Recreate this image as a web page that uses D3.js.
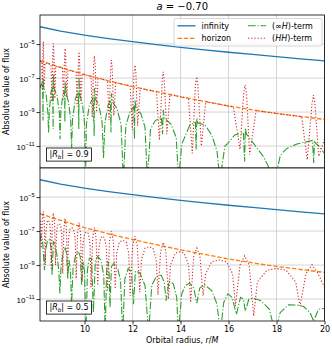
<!DOCTYPE html>
<html>
<head>
<meta charset="utf-8">
<script src="https://cdn.jsdelivr.net/npm/d3@7"></script>
<style>
  body { margin: 0; background: #fff; }
  svg { font-family: "DejaVu Sans", sans-serif; }
</style>
</head>
<body>
<svg id="chart" width="332" height="346"></svg>
<script>
// radius grid for the smooth fluxes (r/M)
var radiusGrid = [8.143, 9, 10, 11, 12, 13, 14, 15, 16, 17, 18, 19, 20];
// log10 of the flux at infinity and at the horizon
var logInfinity = [-3.98, -4.24, -4.48, -4.68, -4.86, -5.03, -5.19, -5.34, -5.48, -5.61, -5.74, -5.87, -5.99];
var logHorizon = [-5.98, -6.37, -6.8, -7.16, -7.5, -7.8, -8.1, -8.37, -8.64, -8.87, -9.08, -9.26, -9.43];

// [r, log10 |flux|] for the interference terms, |R_b| = 0.9
var crossTermR09 = [
  [8.143, -7.6], [8.2, -7.35], [8.25, -7.5], [8.27, -9.5], [8.28, -7.0], [8.3, -7.6], [8.4, -8.0],
  [8.47, -9.0], [8.5, -10.2], [8.53, -9.0], [8.6, -7.8], [8.67, -7.6], [8.69, -10.0], [8.7, -6.8],
  [8.72, -7.6], [8.85, -8.0], [8.95, -9.0], [8.98, -10.6], [9.01, -9.0], [9.1, -7.9], [9.17, -7.75],
  [9.18, -9.6], [9.19, -7.2], [9.21, -7.8], [9.33, -8.4], [9.42, -9.4], [9.46, -11.1], [9.5, -9.4],
  [9.62, -8.2], [9.74, -7.85], [9.76, -10.0], [9.77, -6.95], [9.79, -7.9], [9.92, -8.6], [10.0, -9.7],
  [10.04, -13], [10.08, -9.7], [10.2, -8.6], [10.36, -8.15], [10.4, -10.4], [10.41, -7.6], [10.44, -8.2],
  [10.6, -8.6], [10.73, -9.6], [10.79, -11.7], [10.85, -9.6], [10.98, -8.6], [11.08, -8.3], [11.1, -10.2],
  [11.12, -7.9], [11.15, -8.35], [11.35, -8.8], [11.52, -9.7], [11.62, -13], [11.72, -9.8], [11.9, -8.95],
  [12.05, -8.7], [12.08, -10.6], [12.1, -8.3], [12.14, -8.75], [12.35, -9.1], [12.52, -9.9], [12.62, -13],
  [12.75, -10.0], [12.95, -9.5], [13.2, -9.3], [13.25, -10.3], [13.28, -8.88], [13.32, -9.35], [13.6, -9.7],
  [13.82, -10.5], [13.92, -13], [14.05, -10.9], [14.18, -10.45], [14.39, -9.76], [14.62, -9.6], [14.65, -11.2],
  [14.68, -9.35], [14.72, -9.65], [15.02, -9.76], [15.3, -10.35], [15.52, -11.3], [15.64, -13], [15.85, -11.0],
  [15.97, -10.84], [16.26, -10.35], [16.62, -10.2], [16.67, -11.9], [16.7, -9.95], [16.75, -10.3], [17.04, -10.84],
  [17.46, -11.63], [17.94, -13], [18.16, -11.53], [18.43, -11.14], [18.85, -10.88], [19.29, -10.74], [19.5, -10.67],
  [19.55, -12.0], [19.58, -10.75], [19.8, -11.05], [20.0, -11.44]
];
var hhTermR09 = [
  [8.143, -6.0], [8.22, -6.03], [8.24, -7.7], [8.27, -5.3], [8.28, -4.86], [8.29, -5.3], [8.32, -7.5], [8.35, -6.1],
  [8.6, -6.2], [8.64, -8.39], [8.68, -5.4], [8.7, -4.96], [8.72, -5.4], [8.76, -8.2], [8.8, -6.3],
  [9.08, -6.41], [9.12, -8.29], [9.17, -5.7], [9.19, -5.25], [9.21, -5.7], [9.26, -8.1], [9.31, -6.52],
  [9.65, -6.66], [9.69, -8.69], [9.75, -5.9], [9.77, -5.45], [9.79, -5.9], [9.85, -8.5], [9.9, -6.76],
  [10.27, -6.9], [10.32, -9.3], [10.38, -6.15], [10.41, -5.7], [10.44, -6.15], [10.5, -9.0], [10.56, -7.0],
  [10.96, -7.14], [11.02, -9.47], [11.09, -6.4], [11.12, -5.94], [11.15, -6.4], [11.22, -9.2], [11.3, -7.26],
  [11.9, -7.47], [11.99, -10.06], [12.06, -6.7], [12.1, -6.24], [12.14, -6.7], [12.21, -9.8], [12.32, -7.6],
  [13.0, -7.81], [13.12, -10.65], [13.24, -7.1], [13.28, -6.63], [13.32, -7.1], [13.43, -10.3], [13.56, -7.97],
  [14.33, -8.19], [14.49, -11.43], [14.62, -7.4], [14.67, -6.92], [14.72, -7.4], [14.87, -11.0], [15.05, -8.39],
  [16.2, -8.7], [16.48, -11.2], [16.63, -7.9], [16.69, -7.41], [16.75, -7.9], [16.88, -11.5], [17.15, -8.92],
  [19.05, -9.28], [19.28, -11.8], [19.48, -8.5], [19.54, -8.0], [19.6, -8.5], [19.76, -11.6], [20.0, -10.6]
];

// [r, log10 |flux|] for the interference terms, |R_b| = 0.5
var crossTermR05 = [
  [8.143, -7.6], [8.18, -7.25], [8.24, -7.4], [8.29, -8.4], [8.33, -9.3], [8.37, -8.2], [8.45, -7.6],
  [8.53, -7.5], [8.6, -7.9], [8.65, -9.6], [8.7, -7.6], [8.76, -7.8], [8.86, -8.5], [8.93, -9.4],
  [8.97, -10.65], [9.02, -9.1], [9.1, -8.3], [9.19, -8.0], [9.25, -8.3], [9.3, -9.8], [9.35, -8.7],
  [9.41, -9.3], [9.46, -11.34], [9.52, -9.2], [9.62, -8.45], [9.74, -8.2], [9.82, -8.5], [9.88, -10.2],
  [9.94, -8.8], [10.0, -9.4], [10.06, -13], [10.12, -9.3], [10.2, -8.6], [10.29, -8.6], [10.37, -11.8],
  [10.45, -8.7], [10.55, -8.5], [10.68, -8.7], [10.8, -9.6], [10.86, -13], [10.92, -9.3], [10.97, -8.75],
  [11.02, -9.3], [11.06, -11.5], [11.12, -9.1], [11.22, -8.9], [11.38, -9.2], [11.5, -9.9], [11.59, -13],
  [11.68, -9.8], [11.82, -9.2], [11.96, -9.4], [12.04, -11.3], [12.12, -9.35], [12.3, -9.45], [12.52, -10.2],
  [12.67, -13], [12.8, -10.2], [12.99, -9.67], [13.2, -9.6], [13.32, -10.0], [13.4, -11.1], [13.52, -9.95],
  [13.7, -10.1], [13.84, -10.9], [13.91, -13], [14.05, -10.7], [14.2, -10.2], [14.38, -10.06], [14.55, -10.35],
  [14.68, -11.24], [14.8, -10.35], [15.0, -10.16], [15.3, -10.5], [15.52, -11.3], [15.66, -13], [15.8, -11.2],
  [15.97, -10.69], [16.15, -10.9], [16.33, -11.9], [16.5, -10.9], [16.62, -11.0], [16.7, -11.7], [16.85, -11.0],
  [17.05, -10.95], [17.35, -11.1], [17.7, -11.6], [17.95, -13], [18.15, -11.8], [18.5, -11.34], [18.85, -11.35],
  [19.13, -11.44], [19.4, -11.8], [19.55, -12.3], [19.75, -11.6], [20.0, -11.55]
];
var hhTermR05 = [
  [8.143, -6.4], [8.17, -6.5], [8.2, -8.0], [8.24, -6.3], [8.28, -5.85], [8.32, -6.4], [8.36, -9.0],
  [8.39, -7.0], [8.44, -6.45], [8.48, -6.35], [8.53, -6.45], [8.58, -7.0],
  [8.61, -9.2], [8.66, -6.5], [8.7, -5.94], [8.75, -6.5], [8.79, -9.0],
  [8.83, -7.1], [8.88, -6.65], [8.94, -6.55], [9.0, -6.65], [9.05, -7.2],
  [9.09, -9.5], [9.14, -6.8], [9.19, -6.24], [9.24, -6.8], [9.29, -9.4],
  [9.33, -7.5], [9.39, -6.9], [9.47, -6.8], [9.55, -6.9], [9.61, -7.5],
  [9.65, -9.8], [9.71, -7.1], [9.77, -6.5], [9.83, -7.1], [9.89, -10.0],
  [9.93, -7.8], [10.0, -7.15], [10.08, -7.05], [10.16, -7.15], [10.23, -7.8],
  [10.27, -10.3], [10.34, -7.4], [10.41, -6.8], [10.48, -7.4], [10.55, -10.2],
  [10.6, -8.0], [10.67, -7.4], [10.75, -7.3], [10.83, -7.4], [10.91, -8.0],
  [10.96, -10.5], [11.04, -7.6], [11.12, -7.0], [11.2, -7.6], [11.28, -10.4],
  [11.34, -8.3], [11.45, -7.65], [11.6, -7.55], [11.74, -7.65], [11.84, -8.3],
  [11.9, -10.8], [12.0, -7.9], [12.1, -7.3], [12.2, -7.9], [12.3, -10.6],
  [12.37, -8.7], [12.52, -8.0], [12.68, -7.92], [12.85, -8.0], [12.99, -8.7],
  [13.06, -10.75], [13.17, -8.2], [13.28, -7.67], [13.39, -8.2], [13.5, -11.0],
  [13.58, -9.0], [13.78, -8.3], [13.96, -8.22], [14.15, -8.3], [14.34, -9.0],
  [14.42, -11.2], [14.55, -8.5], [14.68, -8.0], [14.81, -8.5], [14.94, -10.8],
  [15.05, -9.5], [15.3, -8.8], [15.6, -8.7], [15.9, -8.8], [16.17, -9.5],
  [16.29, -11.4], [16.48, -9.0], [16.67, -8.45], [16.86, -9.0], [17.05, -12.0],
  [17.2, -10.0], [17.6, -9.3], [18.0, -9.2], [18.4, -9.3], [18.8, -10.0],
  [18.98, -11.4], [19.23, -9.5], [19.48, -8.98], [19.73, -9.5], [20.0, -10.3]
];

var reflectivity = ['0.9', '0.5'];
var xTicks = [10, 12, 14, 16, 18, 20];
var yTicks = [1e-11, 1e-9, 1e-7, 1e-5];
var yExponents = ['\u221211', '\u22129', '\u22127', '\u22125'];
var legendLabels = ['infinity', 'horizon', '(\u221eH)-term', '(HH)-term'];

var colors = {inf: '#1f77b4', hor: '#ff7f0e', cross: '#2ca02c', hh: '#d62728'};
var dashes = {inf: null, hor: '4.4,1.9', cross: '7.6,1.9,1.2,1.9', hh: '1.2,1.95'};

var svg = d3.select('#chart');
var left = 40, right = 324.5, panelHeight = 153;
var panelTops = [15, 168];

var x = d3.scaleLinear().domain([8.143, 20]).range([left, right]);

var toPoints = function (pairs) {
  return pairs.map(function (p) { return [p[0], Math.pow(10, p[1])]; });
};
var infinityPoints = radiusGrid.map(function (r, i) { return [r, Math.pow(10, logInfinity[i])]; });
var horizonPoints = radiusGrid.map(function (r, i) { return [r, Math.pow(10, logHorizon[i])]; });

var panels = [
  {cross: toPoints(crossTermR09), hh: toPoints(hhTermR09), label: reflectivity[0]},
  {cross: toPoints(crossTermR05), hh: toPoints(hhTermR05), label: reflectivity[1]}
];

panels.forEach(function (panel, k) {
  var top = panelTops[k], bottom = top + panelHeight;
  var y = d3.scaleLog().domain([Math.pow(10, -12.29), Math.pow(10, -3.29)]).range([bottom, top]);
  var g = svg.append('g').attr('class', 'panel' + k);

  g.append('rect').attr('x', left).attr('y', top)
    .attr('width', right - left).attr('height', panelHeight).attr('fill', '#fff');

  svg.append('clipPath').attr('id', 'clip' + k).append('rect')
    .attr('x', left).attr('y', top).attr('width', right - left).attr('height', panelHeight);

  // grid
  g.append('g').selectAll('line').data(xTicks).enter().append('line')
    .attr('x1', function (d) { return x(d); }).attr('x2', function (d) { return x(d); })
    .attr('y1', top).attr('y2', bottom)
    .attr('stroke', '#d0d0d0').attr('stroke-width', 0.9);
  g.append('g').selectAll('line').data(yTicks).enter().append('line')
    .attr('x1', left).attr('x2', right)
    .attr('y1', function (d) { return y(d); }).attr('y2', function (d) { return y(d); })
    .attr('stroke', '#d0d0d0').attr('stroke-width', 0.9);

  var line = d3.line().x(function (d) { return x(d[0]); }).y(function (d) { return y(d[1]); });
  var plot = g.append('g').attr('clip-path', 'url(#clip' + k + ')');
  var series = [
    {key: 'inf', data: infinityPoints, width: 1.3},
    {key: 'hor', data: horizonPoints, width: 1.3},
    {key: 'cross', data: panel.cross, width: 1.1},
    {key: 'hh', data: panel.hh, width: 1.1}
  ];
  series.forEach(function (s) {
    plot.append('path').attr('d', line(s.data))
      .attr('fill', 'none').attr('stroke', colors[s.key])
      .attr('stroke-width', s.width)
      .attr('stroke-dasharray', dashes[s.key]);
  });

  // y axis with 10^n labels
  var yAxis = g.append('g').attr('transform', 'translate(' + left + ',0)')
    .call(d3.axisLeft(y).tickValues(yTicks).tickSize(3.5).tickFormat(function () { return ''; }));
  yAxis.select('.domain').remove();
  yAxis.selectAll('line').attr('stroke', '#000').attr('stroke-width', 0.8);
  yAxis.selectAll('.tick').each(function (d, i) {
    var t = d3.select(this).append('text').attr('x', -5.5).attr('y', 3)
      .attr('text-anchor', 'end').attr('fill', '#000').attr('font-size', 8);
    t.append('tspan').text('10');
    t.append('tspan').attr('dy', -3.6).attr('font-size', 5.6).text(yExponents[i]);
  });

  if (k === 1) {
    var xAxis = g.append('g').attr('transform', 'translate(0,' + bottom + ')')
      .call(d3.axisBottom(x).tickValues(xTicks).tickSize(3.5).tickPadding(2));
    xAxis.select('.domain').remove();
    xAxis.selectAll('line').attr('stroke', '#000').attr('stroke-width', 0.8);
    xAxis.selectAll('text').attr('font-size', 8).attr('font-family', 'DejaVu Sans');
  }

  // frame
  g.append('rect').attr('x', left).attr('y', top)
    .attr('width', right - left).attr('height', panelHeight)
    .attr('fill', 'none').attr('stroke', '#000').attr('stroke-width', 0.8);

  // y label
  g.append('text').attr('transform', 'translate(9,' + (top + panelHeight / 2) + ') rotate(-90)')
    .attr('text-anchor', 'middle').attr('font-size', 8).text('Absolute value of flux');

  // |R_b| box
  var boxRect = g.append('rect');
  var ann = g.append('text').attr('x', 69).attr('y', bottom - 11).attr('text-anchor', 'middle')
    .attr('font-size', 8);
  ann.append('tspan').text('|');
  ann.append('tspan').attr('font-style', 'italic').text('R');
  ann.append('tspan').attr('font-style', 'italic').attr('font-size', 5.6).attr('dy', 1.6).text('b');
  ann.append('tspan').attr('dy', -1.6).text('| = ' + panel.label);
  var bb = ann.node().getBBox();
  boxRect.attr('x', bb.x - 3).attr('y', bb.y - 2).attr('width', bb.width + 6).attr('height', bb.height + 3.5)
    .attr('fill', '#fff').attr('stroke', '#000').attr('stroke-width', 0.8);
});

// title
var title = svg.append('text').attr('x', (left + right) / 2).attr('y', 10)
  .attr('text-anchor', 'middle').attr('font-size', 10);
title.append('tspan').attr('font-style', 'italic').text('a');
title.append('tspan').text(' = \u22120.70');

// x label
var xlab = svg.append('text').attr('x', (left + right) / 2).attr('y', 343)
  .attr('text-anchor', 'middle').attr('font-size', 8);
xlab.append('tspan').text('Orbital radius, ');
xlab.append('tspan').attr('font-style', 'italic').text('r');
xlab.append('tspan').text('/');
xlab.append('tspan').attr('font-style', 'italic').text('M');

// legend
var legend = svg.append('g');
legend.append('rect').attr('x', 174).attr('y', 18.5).attr('width', 148).attr('height', 27.5)
  .attr('rx', 2).attr('fill', '#fff').attr('fill-opacity', 0.8)
  .attr('stroke', '#cccccc').attr('stroke-width', 0.8);
var legendItems = [
  {key: 'inf', col: 0, row: 0}, {key: 'hor', col: 0, row: 1},
  {key: 'cross', col: 1, row: 0}, {key: 'hh', col: 1, row: 1}
];
legendItems.forEach(function (item, i) {
  var lx = item.col === 0 ? 177.5 : 248;
  var ly = item.row === 0 ? 25.8 : 38.3;
  legend.append('line').attr('x1', lx).attr('x2', lx + 18).attr('y1', ly).attr('y2', ly)
    .attr('stroke', colors[item.key]).attr('stroke-width', item.key === 'cross' || item.key === 'hh' ? 1.1 : 1.3)
    .attr('stroke-dasharray', dashes[item.key]);
  var t = legend.append('text').attr('x', lx + 24).attr('y', ly + 2.9).attr('font-size', 8);
  if (item.key === 'cross') {
    t.append('tspan').text('(\u221e');
    t.append('tspan').attr('font-style', 'italic').text('H');
    t.append('tspan').text(')-term');
  } else if (item.key === 'hh') {
    t.append('tspan').text('(');
    t.append('tspan').attr('font-style', 'italic').text('HH');
    t.append('tspan').text(')-term');
  } else {
    t.text(legendLabels[i === 0 ? 0 : 1]);
  }
});
</script>
</body>
</html>
